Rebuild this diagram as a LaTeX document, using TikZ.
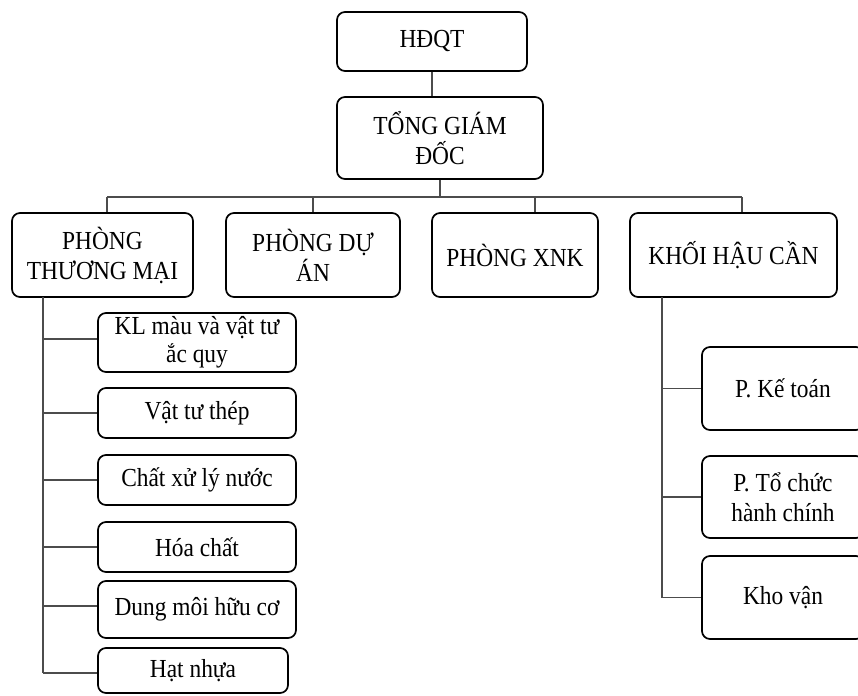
\documentclass[tikz,border=0pt]{standalone}
\usepackage{fontspec}
\setmainfont{Liberation Serif}[FakeStretch=0.9]
\begin{document}
\begin{tikzpicture}[x=1pt,y=-1pt,
  box/.style={draw=black, line width=1.7pt, rounded corners=8pt, align=center,
    inner sep=0pt, font=\fontsize{26}{30}\selectfont, text=black},
  link/.style={draw=black!70, line width=1.2pt}]
\useasboundingbox (0,0) rectangle (858,695);
\clip (0,0) rectangle (858,695);
% top
\node[box, minimum width=190pt, minimum height=59pt] (hdqt) at (432,41.5) {HĐQT};
\node[box, minimum width=206pt, minimum height=82pt] (tgd) at (440,138) {TỔNG GIÁM\\ĐỐC};
% level 2
\node[box, minimum width=181pt, minimum height=84pt] (ptm) at (102.5,255) {PHÒNG\\THƯƠNG MẠI};
\node[box, minimum width=174pt, minimum height=84pt] (pda) at (313,255) {PHÒNG DỰ\\ÁN};
\node[box, minimum width=166pt, minimum height=84pt] (xnk) at (515,255) {PHÒNG XNK};
\node[box, minimum width=207pt, minimum height=84pt] (khc) at (733.5,255) {KHỐI HẬU CẦN};
% children of PTM
\node[box, minimum width=198pt, minimum height=59pt, font=\fontsize{26}{28}\selectfont] (kl) at (197,342.5) {KL màu và vật tư\\ắc quy};
\node[box, minimum width=198pt, minimum height=50pt] (vtt) at (197,413) {Vật tư thép};
\node[box, minimum width=198pt, minimum height=50pt] (cxl) at (197,480) {Chất xử lý nước};
\node[box, minimum width=198pt, minimum height=50pt] (hc) at (197,547) {Hóa chất};
\node[box, minimum width=198pt, minimum height=57pt] (dm) at (197,609.5) {Dung môi hữu cơ};
\node[box, minimum width=190pt, minimum height=45pt] (hn) at (193,670.5) {Hạt nhựa};
% children of KHC
\node[box, minimum width=162pt, minimum height=83pt] (kt) at (783,388.5) {P. Kế toán};
\node[box, minimum width=162pt, minimum height=82pt] (tc) at (783,497) {P. Tổ chức\\hành chính};
\node[box, minimum width=162pt, minimum height=83pt] (kv) at (783,597.5) {Kho vận};
% connectors top
\draw[link] (hdqt.south) -- (hdqt.south |- tgd.north);
\coordinate (bus) at (440,197);
\coordinate (b1) at (107,197);
\coordinate (b2) at (313,197);
\coordinate (b3) at (535,197);
\coordinate (b4) at (742,197);
\draw[link] (tgd.south) -- (bus);
\draw[link] (b1) -- (b4);
\draw[link] (b1) -- (b1 |- ptm.north);
\draw[link] (b2) -- (b2 |- pda.north);
\draw[link] (b3) -- (b3 |- xnk.north);
\draw[link] (b4) -- (b4 |- khc.north);
% PTM trunk
\coordinate (t1) at (43,297);
\coordinate (t1end) at (43,673);
\draw[link] (t1) -- (t1end);
\draw[link] (43,339) -- (kl.west |- 0,339);
\draw[link] (t1 |- vtt.west) -- (vtt.west);
\draw[link] (t1 |- cxl.west) -- (cxl.west);
\draw[link] (t1 |- hc.west) -- (hc.west);
\draw[link] (43,606) -- (dm.west |- 0,606);
\draw[link] (t1end) -- (hn.west |- t1end);
% KHC trunk
\coordinate (t2) at (662,297);
\draw[link] (t2) -- (t2 |- kv.west);
\draw[link] (t2 |- kt.west) -- (kt.west);
\draw[link] (t2 |- tc.west) -- (tc.west);
\draw[link] (t2 |- kv.west) -- (kv.west);
\end{tikzpicture}
\end{document}
